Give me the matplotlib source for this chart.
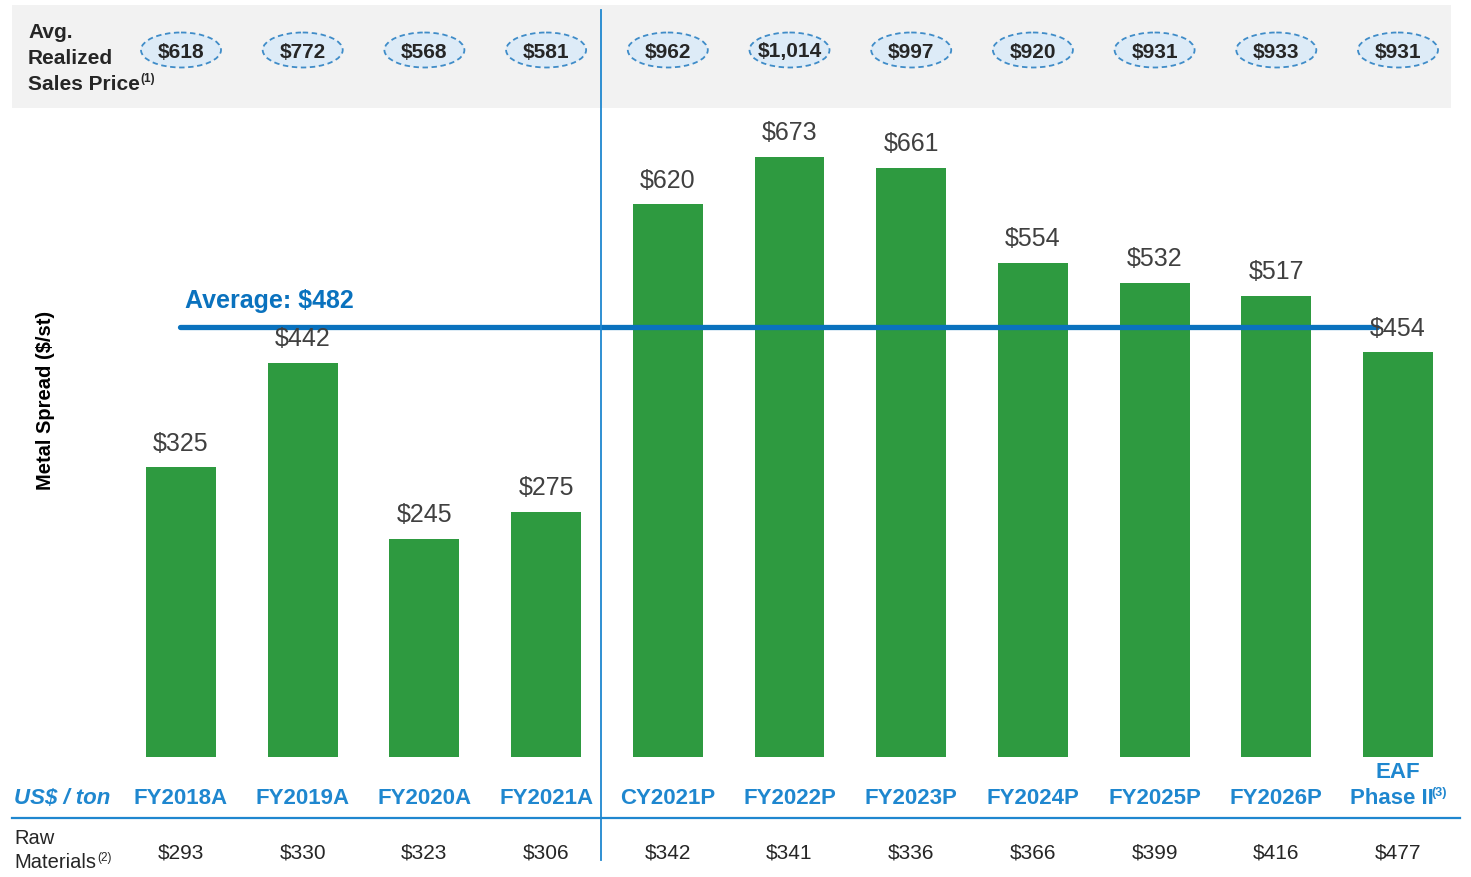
import matplotlib
matplotlib.use("Agg")
import matplotlib.pyplot as plt
from matplotlib.patches import Ellipse, Rectangle
from matplotlib.transforms import Affine2D

plt.rcParams['font.family'] = ['Liberation Sans', 'DejaVu Sans']

# ---- data ----
categories = ['FY2018A', 'FY2019A', 'FY2020A', 'FY2021A', 'CY2021P', 'FY2022P',
              'FY2023P', 'FY2024P', 'FY2025P', 'FY2026P', 'EAF|Phase II']
metal_spread = [325, 442, 245, 275, 620, 673, 661, 554, 532, 517, 454]
avg_sales_price = [618, 772, 568, 581, 962, 1014, 997, 920, 931, 933, 931]
raw_materials = [293, 330, 323, 306, 342, 341, 336, 366, 399, 416, 477]
average_spread = 482

GREEN = '#2E9A40'
BLUE = '#1F87CF'
LINE_BLUE = '#0A72BE'
DARK = '#262626'
LABEL_GRAY = '#404040'

W, H, DPI = 1471, 877, 100
fig = plt.figure(figsize=(W / DPI, H / DPI), dpi=DPI)

# pixel-from-top coordinate system for layout elements
PX = Affine2D().scale(1 / DPI, -1 / DPI).translate(0, H / DPI) + fig.dpi_scale_trans

# main bar axes spanning the figure; bar slots spaced ~121.7 px starting at 181 px
x0_px, step_px = 181.0, 121.7
base_px, unit_px = 757.0, 0.8915
ax = fig.add_axes([0, 0, 1, 1])
ax.set_xlim(-x0_px / step_px, (W - x0_px) / step_px)
ax.set_ylim(-(H - base_px) / unit_px, base_px / unit_px)
ax.axis('off')

xs = list(range(len(categories)))
ax.bar(xs, metal_spread, width=0.575, color=GREEN, zorder=2)
for x, v in zip(xs, metal_spread):
    ax.annotate(f'${v:,}', (x, v), xytext=(0, 17.0), textcoords='offset points',
                ha='center', va='center', fontsize=18, color=LABEL_GRAY, zorder=5)

# average line
ax.plot([-0.01, 9.83], [average_spread, average_spread], color=LINE_BLUE,
        lw=3.8, solid_capstyle='round', zorder=3)
ax.text(0.03, average_spread + 30, f'Average: ${average_spread}', color=LINE_BLUE,
        fontsize=18, fontweight='bold', ha='left', va='center', zorder=5)

# header band with average realized sales price
fig.add_artist(Rectangle((12, 5), 1439, 103, transform=PX, facecolor='#F2F2F2',
                         edgecolor='none', zorder=0))
fig.text(28, 33, 'Avg.', transform=PX, fontsize=15, fontweight='bold', color=DARK, va='center')
fig.text(28, 59, 'Realized', transform=PX, fontsize=15, fontweight='bold', color=DARK, va='center')
fig.text(28, 84, 'Sales Price', transform=PX, fontsize=15, fontweight='bold', color=DARK, va='center')
fig.text(140, 79, '(1)', transform=PX, fontsize=8.5, fontweight='bold', color=DARK, va='center')

for x, p in zip(xs, avg_sales_price):
    cx = x0_px + step_px * x
    fig.add_artist(Ellipse((cx, 50), 80, 35, transform=PX, facecolor='#DDEBF7',
                           edgecolor='#3F8CC8', linestyle=(0, (3, 2)), lw=1.3, zorder=1))
    fig.text(cx, 52, f'${p:,}', transform=PX, fontsize=15, fontweight='bold',
             color=DARK, ha='center', va='center', zorder=2)

# vertical separator between actual and projected years
fig.add_artist(plt.Line2D([601, 601], [10, 860], transform=PX, color=BLUE, lw=1.3, zorder=4))

# y label
fig.text(46, 400, 'Metal Spread ($/st)', transform=PX, rotation=90, fontsize=14.5,
         fontweight='bold', color='black', ha='center', va='center')

# category labels
fig.text(14, 799, 'US$ / ton', transform=PX, fontsize=16, fontweight='bold',
         style='italic', color=BLUE, ha='left', va='center')
for x, c in zip(xs, categories):
    cx = x0_px + step_px * x
    if '|' in c:
        top, bottom = c.split('|')
        fig.text(cx, 773, top, transform=PX, fontsize=16, fontweight='bold',
                 color=BLUE, ha='center', va='center')
        fig.text(1350, 799, bottom, transform=PX, fontsize=16, fontweight='bold',
                 color=BLUE, ha='left', va='center')
        fig.text(1431, 793, '(3)', transform=PX, fontsize=9, fontweight='bold',
                 color=BLUE, ha='left', va='center')
    else:
        fig.text(cx, 799, c, transform=PX, fontsize=16, fontweight='bold',
                 color=BLUE, ha='center', va='center')

fig.add_artist(plt.Line2D([12, 1460], [818, 818], transform=PX, color=BLUE, lw=1.6, zorder=4))

# raw materials row
fig.text(14, 838, 'Raw', transform=PX, fontsize=14.5, color=DARK, va='center')
fig.text(14, 863, 'Materials', transform=PX, fontsize=14.5, color=DARK, va='center')
fig.text(97, 858, '(2)', transform=PX, fontsize=8.5, color=DARK, va='center')
for x, r in zip(xs, raw_materials):
    cx = x0_px + step_px * x
    fig.text(cx, 853, f'${r}', transform=PX, fontsize=15, color=DARK,
             ha='center', va='center')

fig.savefig('out.png', dpi=DPI, facecolor='white')
